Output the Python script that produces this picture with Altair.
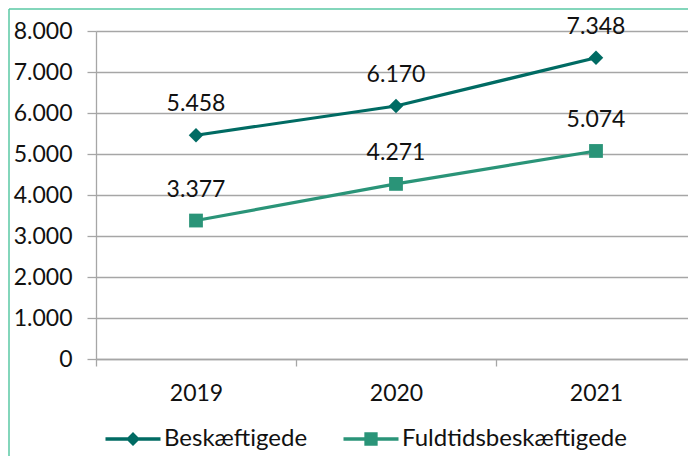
import altair as alt
import pandas as pd

years = ["2019", "2020", "2021"]
series_names = ["Beskæftigede", "Fuldtidsbeskæftigede"]
beskaeftigede = [5458, 6170, 7348]
fuldtid = [3377, 4271, 5074]
y_ticks = [0, 1000, 2000, 3000, 4000, 5000, 6000, 7000, 8000]
colors = ["#006b63", "#2a9478"]
point_shapes = ["diamond", "square"]
point_sizes = [210, 190]
legend_paths = [
    "M-3.93,-0.25H3.93V0.25H-3.93Z M0,-1L1,0L0,1L-1,0Z",
    "M-3.93,-0.25H3.93V0.25H-3.93Z M-0.95,-0.95H0.95V0.95H-0.95Z",
]
border_color = "#5ac8a5"
grid_color = "#a6a6a6"
FONT = "Lato"

rows = []
for name, vals in zip(series_names, [beskaeftigede, fuldtid]):
    for yr, v in zip(years, vals):
        rows.append({"year": yr, "series": name, "value": v})
df = pd.DataFrame(rows)

W, H = 600, 328

x_enc = alt.X(
    "year:O",
    scale=alt.Scale(type="band", paddingInner=0, paddingOuter=0),
    bandPosition=0.5,
    axis=alt.Axis(
        title=None, labelAngle=0, tickBand="extent", grid=False,
        tickSize=7, labelPadding=16, domainWidth=1.3, tickWidth=1.3,
    ),
)
y_enc = alt.Y(
    "value:Q",
    scale=alt.Scale(domain=[0, 8000], nice=False, zero=True),
    axis=alt.Axis(
        title=None, values=y_ticks, grid=True, gridWidth=1.3,
        labelExpr="replace(format(datum.value, ','), ',', '.')",
        tickSize=9, labelPadding=15, domainWidth=1.3, tickWidth=1.3,
    ),
)

base = alt.Chart(df).transform_calculate(
    label="replace(format(datum.value, ','), ',', '.')"
)

layers = []
for name, col, shp, sz in zip(series_names, colors, point_shapes, point_sizes):
    sub = base.transform_filter(alt.datum.series == name)
    layers.append(sub.mark_line(color=col, strokeWidth=3.2).encode(x=x_enc, y=y_enc))
    layers.append(
        sub.mark_point(shape=shp, filled=True, size=sz, color=col, opacity=1).encode(x=x_enc, y=y_enc)
    )
    layers.append(
        sub.mark_text(dy=-24, fontSize=23, font=FONT, color="#111111", baseline="alphabetic").encode(
            x=x_enc, y=y_enc, text="label:N"
        )
    )

leg = alt.Legend(
    title=None, orient="none", legendX=25, legendY=396, direction="horizontal",
    labelFont=FONT, labelFontSize=24, labelColor="#111111", labelLimit=400,
    symbolSize=196, symbolStrokeWidth=0, labelOffset=19, columnPadding=35,
)
legend_layer = alt.Chart(df).mark_point(filled=True, size=196, opacity=1, clip=True).encode(
    x=x_enc,
    y=alt.value(-3000),
    color=alt.Color("series:N", scale=alt.Scale(domain=series_names, range=colors), legend=leg),
    shape=alt.Shape("series:N", scale=alt.Scale(domain=series_names, range=legend_paths), legend=leg),
)

one = pd.DataFrame({"a": [0]})
border_v = alt.Chart(one).mark_rule(color=border_color, strokeWidth=1.5).encode(
    x=alt.value(-87), y=alt.value(-22), y2=alt.value(600)
)
border_h = alt.Chart(one).mark_rule(color=border_color, strokeWidth=1.5).encode(
    x=alt.value(-87), x2=alt.value(800), y=alt.value(-22)
)

chart = alt.layer(border_v, border_h, *layers, legend_layer).properties(
    width=W, height=H,
    autosize=alt.AutoSizeParams(type="none"),
    padding={"left": 88, "top": 23, "right": -8, "bottom": 97},
).configure_view(stroke=None).configure_axis(
    labelFont=FONT, labelFontSize=23, labelColor="#111111",
    domainColor=grid_color, tickColor=grid_color, gridColor=grid_color,
)

chart.save("out.html", embed_options={"renderer": "svg", "actions": False})
